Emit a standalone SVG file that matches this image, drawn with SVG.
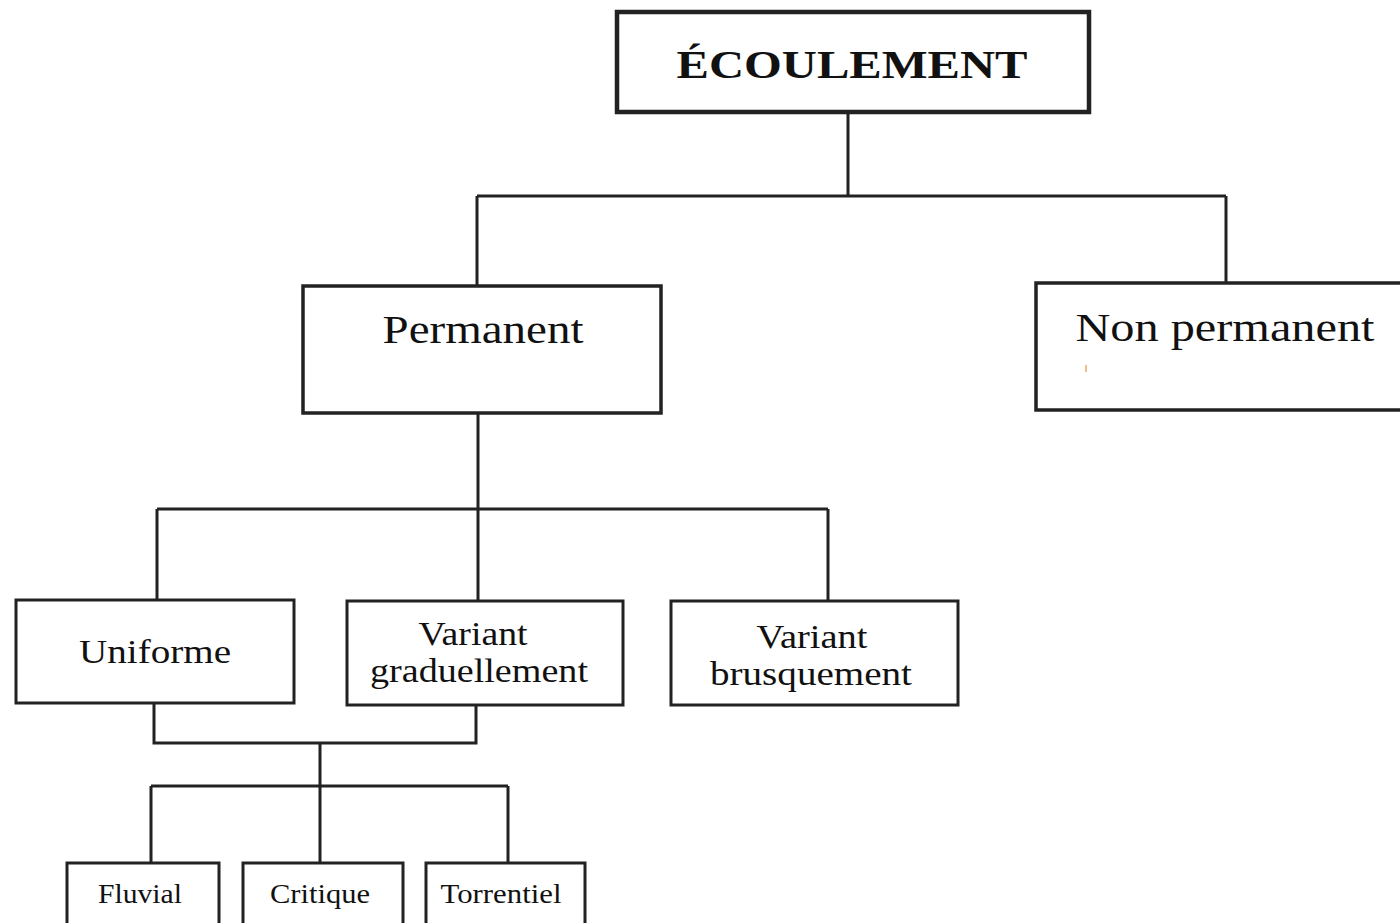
<svg xmlns="http://www.w3.org/2000/svg" width="1400" height="923" viewBox="0 0 1400 923">
<style>
.box{fill:#fff;stroke:#222;stroke-width:3}
.t{font-family:"Liberation Serif",serif;fill:#111;text-anchor:middle}
.c{fill:none;stroke:#222;stroke-width:3}
</style>
<rect width="1400" height="923" fill="#fff"/>
<g id="connectors">
<path class="c" d="M848 112V196M477 196H1226M477 196V286M1226 196V283"/>
<path class="c" d="M478 413V600M157 509H828M157 509V600M828 509V601"/>
<path class="c" d="M154 703V743H476V705M320 743V786M151 786H508M151 786V863M320 786V863M508 786V863"/>
</g>
<g id="ecoulement"><rect class="box" x="617" y="12" width="472" height="100" style="stroke-width:4.5"/><text class="t" x="852" y="78" font-size="41" font-weight="bold" textLength="351" lengthAdjust="spacingAndGlyphs">ÉCOULEMENT</text></g>
<g id="permanent"><rect class="box" x="303" y="286" width="358" height="127" style="stroke-width:3.5"/><text class="t" x="483" y="343" font-size="40" textLength="201" lengthAdjust="spacingAndGlyphs">Permanent</text></g>
<g id="non-permanent"><rect class="box" x="1036" y="283" width="370" height="127" style="stroke-width:3.5"/><text class="t" x="1225" y="341" font-size="40" textLength="299" lengthAdjust="spacingAndGlyphs">Non permanent</text><path d="M1086 365V372" stroke="#e9a860" stroke-width="1.5"/></g>
<g id="uniforme"><rect class="box" x="16" y="600" width="278" height="103"/><text class="t" x="155" y="663" font-size="34" textLength="152" lengthAdjust="spacingAndGlyphs">Uniforme</text></g>
<g id="variant-graduellement"><rect class="box" x="347" y="601" width="276" height="104"/><text class="t" x="473" y="645" font-size="34" textLength="109" lengthAdjust="spacingAndGlyphs">Variant</text><text class="t" x="479" y="682" font-size="34" textLength="218" lengthAdjust="spacingAndGlyphs">graduellement</text></g>
<g id="variant-brusquement"><rect class="box" x="671" y="601" width="287" height="104"/><text class="t" x="812" y="648" font-size="34" textLength="111" lengthAdjust="spacingAndGlyphs">Variant</text><text class="t" x="811" y="685" font-size="34" textLength="202" lengthAdjust="spacingAndGlyphs">brusquement</text></g>
<g id="fluvial"><rect class="box" x="67" y="863" width="152" height="70"/><text class="t" x="140" y="903" font-size="28" textLength="84" lengthAdjust="spacingAndGlyphs">Fluvial</text></g>
<g id="critique"><rect class="box" x="243" y="863" width="160" height="70"/><text class="t" x="320" y="903" font-size="28" textLength="100" lengthAdjust="spacingAndGlyphs">Critique</text></g>
<g id="torrentiel"><rect class="box" x="426" y="863" width="159" height="70"/><text class="t" x="501" y="903" font-size="28" textLength="121" lengthAdjust="spacingAndGlyphs">Torrentiel</text></g>
</svg>
